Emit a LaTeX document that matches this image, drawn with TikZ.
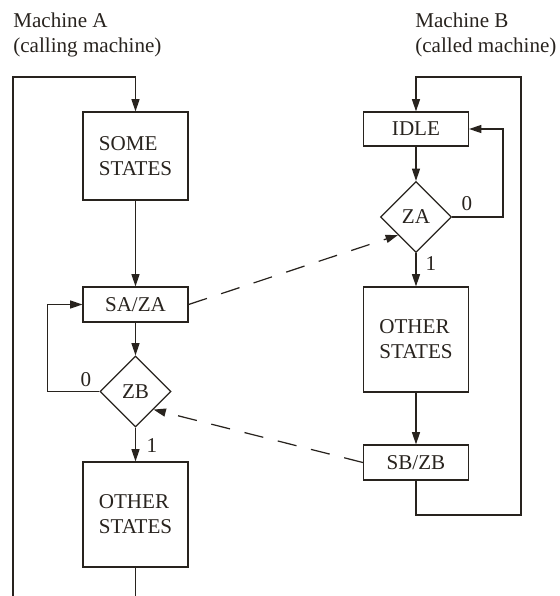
\documentclass[tikz,border=0pt]{standalone}
\usepackage{fontspec}
\setmainfont{Liberation Serif}
\usetikzlibrary{arrows.meta,shapes.geometric,positioning}
\definecolor{ink}{RGB}{40,35,30}

\begin{document}
\begin{tikzpicture}[
  x=0.02cm,y=-0.02cm,
  >={Triangle[length=7pt,width=4.6pt]},
  every node/.style={text=ink,font=\fontsize{12}{14.2}\selectfont},
  state/.style={draw=ink,line width=.7pt,minimum width=2.1cm,align=left},
  test/.style={draw=ink,diamond,line width=.7pt,minimum size=1.42cm,inner sep=0},
  flow/.style={draw=ink,line width=.7pt},
  call/.style={flow,dash pattern=on 11pt off 8.5pt},
  title/.style={anchor=north west,align=left,inner sep=0},
]
  \useasboundingbox (0,0) rectangle (559,596);
  % machine A (calling)
  \node[title] (titleA) at (13,13) {Machine A\\(calling machine)};
  \node[state,minimum height=1.76cm] (someA) at (135.5,156) {SOME\\STATES};
  \node[state,minimum height=0.7cm] (sa) at (135.5,304.5) {SA/ZA};
  \node[test] (zb) at (135.5,391.5) {ZB};
  \node[state,minimum height=2.1cm] (otherA) at (135.5,514.5) {OTHER\\STATES};
  \node (zb0) at (86,380) {0};
  \node (zb1) at (152,446) {1};
  \coordinate (retA) at (13,596);
  \coordinate (cornerA) at (13,77);
  \coordinate (endA) at (135.5,596);
  \foreach \a/\b in {someA/sa,sa/zb,zb/otherA} \draw[flow,->] (\a) -- (\b);
  \draw[flow] (otherA) -- (endA);
  \draw[flow,->] (retA) -- (cornerA) -| (someA.north);
  \draw[flow,->] (zb.west) -- ++(-52,0) |- (sa.west);
  % machine B (called)
  \node[title] (titleB) at (415,13) {Machine B\\(called machine)};
  \node[state,minimum height=0.68cm] (idle) at (416,129) {IDLE};
  \node[test] (za) at (416,217) {ZA};
  \node[state,minimum height=2.1cm] (otherB) at (416,339.5) {OTHER\\STATES};
  \node[state,minimum height=0.7cm] (sb) at (416,462.5) {SB/ZB};
  \node (za0) at (467,204) {0};
  \node (za1) at (431,264) {1};
  \coordinate (botB) at (521,515);
  \coordinate (topB) at (521,77);
  \foreach \a/\b in {idle/za,za/otherB,otherB/sb} \draw[flow,->] (\a) -- (\b);
  \draw[flow,->] (sb.south) |- (botB) -- (topB) -| (idle.north);
  \draw[flow,->] (za.east) -- ++(51,0) |- (idle.east);
  % calls between the machines
  \draw[call,->] (sa.east) -- (za.south west);
  \draw[call,->] (sb.west) -- (zb.south east);
\end{tikzpicture}
\end{document}
